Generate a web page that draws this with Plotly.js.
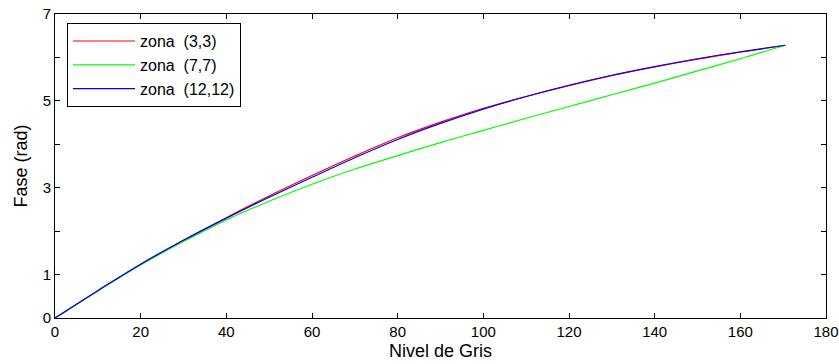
<!DOCTYPE html>
<html>
<head>
<meta charset="utf-8">
<script src="https://cdn.plot.ly/plotly-3.0.1.min.js"></script>
<style>
  html, body { margin: 0; padding: 0; background: #fff; }
  #chart { width: 839px; height: 364px; }
</style>
</head>
<body>
<div id="chart"></div>
<script>
// Nivel de gris (x)
const nivel = [0, 10, 20, 30, 40, 50, 60, 70, 80, 90, 100, 110, 120, 130, 140, 150, 160, 170.5];
// Fase (rad) per zona
const zona33   = [0, 0.63, 1.24, 1.79, 2.31, 2.81, 3.28, 3.73, 4.15, 4.51, 4.83, 5.10, 5.35, 5.58, 5.78, 5.96, 6.12, 6.28];
const zona77   = [0, 0.62, 1.22, 1.76, 2.26, 2.69, 3.08, 3.43, 3.74, 4.04, 4.32, 4.60, 4.87, 5.14, 5.41, 5.69, 5.97, 6.28];
const zona1212 = [0, 0.63, 1.24, 1.79, 2.30, 2.78, 3.24, 3.69, 4.11, 4.48, 4.81, 5.10, 5.36, 5.59, 5.79, 5.97, 6.13, 6.28];
const seriesNames = ["zona\u00a0 (3,3)", "zona\u00a0 (7,7)", "zona\u00a0 (12,12)"];
const seriesColors = ["#ff0000", "#00ff00", "#0000ff"];
const xTicks = [0, 20, 40, 60, 80, 100, 120, 140, 160, 180];
const yTicks = [0, 1, 2, 3, 4, 5, 6, 7];
const yTickText = ["0", "1", "", "3", "", "5", "", "7"];

const ys = [zona33, zona77, zona1212];
const traces = ys.map((y, i) => ({
  x: nivel, y: y, type: "scatter", mode: "lines",
  name: seriesNames[i],
  line: { color: seriesColors[i], width: 1.2, shape: "spline", smoothing: 1 }
}));

const font = { family: "Liberation Sans, Arial, Helvetica, sans-serif", color: "#000" };

const layout = {
  width: 839, height: 364,
  margin: { l: 55, r: 13, t: 14, b: 46 },
  paper_bgcolor: "#fff", plot_bgcolor: "#fff",
  font: Object.assign({ size: 15 }, font),
  showlegend: true,
  legend: {
    x: 0.0156, y: 0.97, xanchor: "left", yanchor: "top",
    bgcolor: "#fff", bordercolor: "#000", borderwidth: 1,
    font: Object.assign({ size: 16 }, font),
    itemwidth: 62, tracegroupgap: 0
  },
  xaxis: {
    range: [0, 180], tickmode: "array", tickvals: xTicks,
    ticks: "inside", ticklen: 5, tickcolor: "#000", tickwidth: 1,
    showline: true, linecolor: "#000", linewidth: 1, mirror: "ticks",
    showgrid: false, zeroline: false,
    tickfont: Object.assign({ size: 15 }, font),
    title: { text: "Nivel de Gris", font: Object.assign({ size: 18 }, font), standoff: 5 }
  },
  yaxis: {
    range: [0, 7], tickmode: "array", tickvals: yTicks, ticktext: yTickText,
    ticks: "inside", ticklen: 5, tickcolor: "#000", tickwidth: 1,
    showline: true, linecolor: "#000", linewidth: 1, mirror: "ticks",
    showgrid: false, zeroline: false,
    tickfont: Object.assign({ size: 15 }, font),
    title: { text: "Fase (rad)", font: Object.assign({ size: 18 }, font), standoff: 10 }
  }
};

Plotly.newPlot("chart", traces, layout, { displayModeBar: false, staticPlot: true });
</script>
</body>
</html>
